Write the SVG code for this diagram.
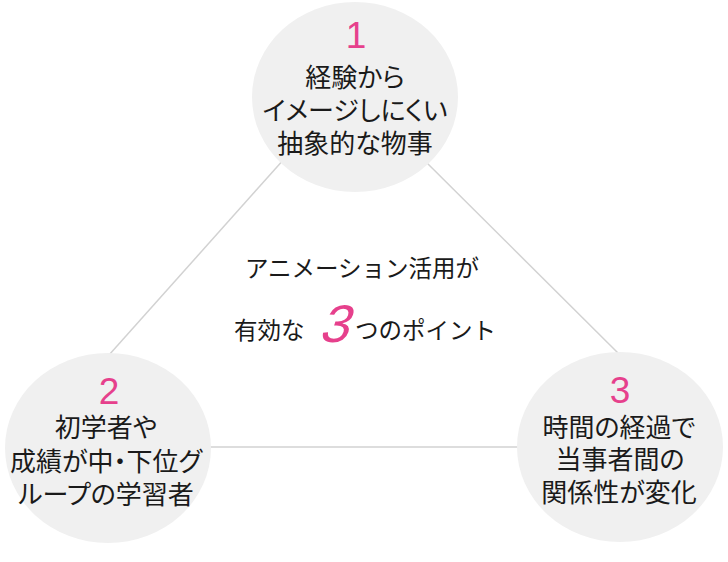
<svg xmlns="http://www.w3.org/2000/svg" width="728" height="562" viewBox="0 0 728 562">
<style>
.bg{fill:#f0f0f0}
.conn line{stroke:#d2d2d2;stroke-width:1.5;fill:none}
.jp{font-family:"Noto Sans CJK JP","Noto Sans",sans-serif;fill:#1a1a1a;text-anchor:middle;font-size:26px;font-feature-settings:"palt"}
.num{font-family:"Liberation Sans",Arial,sans-serif;fill:#e6408c;text-anchor:middle;font-size:37px}
.ctr{font-family:"Noto Sans CJK JP","Noto Sans",sans-serif;fill:#1a1a1a;font-size:23.5px}
.big3{font-family:"Liberation Sans",Arial,sans-serif;fill:#e6408c;font-size:53px}
</style>
<rect width="728" height="562" fill="#ffffff"/>
<g id="connectors" class="conn">
<line x1="285" y1="158" x2="109" y2="355"/>
<line x1="422" y1="158" x2="620" y2="355"/>
<line x1="205" y1="447" x2="522" y2="447"/>
</g>
<g id="node1">
<ellipse class="bg" cx="355" cy="97" rx="103" ry="95"/>
<text class="num" x="356" y="48">1</text>
<text class="jp" x="355" y="87">経験から</text>
<text class="jp" x="355" y="120">イメージしにくい</text>
<text class="jp" x="355" y="153">抽象的な物事</text>
</g>
<g id="node2">
<ellipse class="bg" cx="108" cy="448" rx="103" ry="95"/>
<text class="num" x="109" y="404">2</text>
<text class="jp" x="106" y="437">初学者や</text>
<text class="jp" x="106" y="471">成績が中・下位グ</text>
<text class="jp" x="106" y="504">ループの学習者</text>
</g>
<g id="node3">
<ellipse class="bg" cx="620" cy="447" rx="103" ry="95"/>
<text class="num" x="620" y="403">3</text>
<text class="jp" x="619" y="437">時間の経過で</text>
<text class="jp" x="620" y="469">当事者間の</text>
<text class="jp" x="619" y="502">関係性が変化</text>
</g>
<g id="center">
<text class="ctr" x="362" y="277" text-anchor="middle">アニメーション活用が</text>
<text class="ctr" x="234" y="339">有効な</text>
<text class="big3" transform="translate(318,342) skewX(-18)" x="0" y="0">3</text>
<text class="ctr" x="355" y="339">つのポイント</text>
</g>
</svg>
